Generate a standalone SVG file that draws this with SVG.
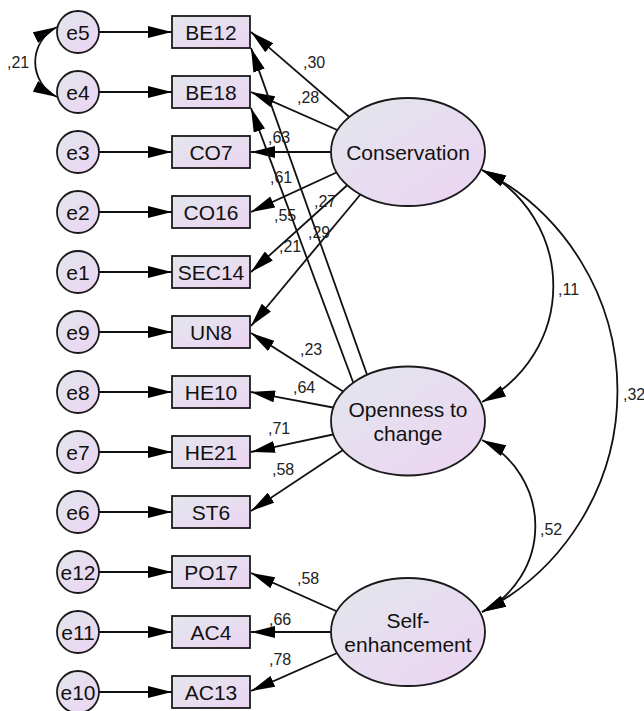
<svg xmlns="http://www.w3.org/2000/svg" width="644" height="711" viewBox="0 0 644 711">
  <style>
    .shape { stroke: #1a1a1a; stroke-width: 1.8; fill: url(#fillGrad); }
    .lbl { font-family: "Liberation Sans", Arial, sans-serif; font-size: 21px; fill: #111; text-anchor: middle; }
    .coef { font-family: "Liberation Sans", Arial, sans-serif; font-size: 16px; fill: #222; }
    .path { fill: none; stroke: #111; stroke-width: 1.8; marker-end: url(#ah); }
    .cov { fill: none; stroke: #111; stroke-width: 1.8; marker-start: url(#ah); marker-end: url(#ah); }
  </style>
  <defs>
    <linearGradient id="fillGrad" x1="0" y1="0" x2="1" y2="1">
      <stop offset="0" stop-color="#e2e6ec"/>
      <stop offset="1" stop-color="#ecd4f3"/>
    </linearGradient>
    <marker id="ah" viewBox="0 0 24 12" refX="24" refY="6" markerWidth="24" markerHeight="12" markerUnits="userSpaceOnUse" orient="auto-start-reverse">
      <path d="M0,0 L24,6 L0,12 z" fill="#000"/>
    </marker>
  </defs>

  <rect width="644" height="711" fill="#fff"/>

  <!-- connectors -->
  <g id="connectors">
    <!-- error terms to indicators -->
    <line class="path" x1="99" y1="32" x2="172" y2="32"/>
    <line class="path" x1="99" y1="92" x2="172" y2="92"/>
    <line class="path" x1="99" y1="152" x2="172" y2="152"/>
    <line class="path" x1="99" y1="212" x2="172" y2="212"/>
    <line class="path" x1="99" y1="272" x2="172" y2="272"/>
    <line class="path" x1="99" y1="332" x2="172" y2="332"/>
    <line class="path" x1="99" y1="392" x2="172" y2="392"/>
    <line class="path" x1="99" y1="452" x2="172" y2="452"/>
    <line class="path" x1="99" y1="512" x2="172" y2="512"/>
    <line class="path" x1="99" y1="572" x2="172" y2="572"/>
    <line class="path" x1="99" y1="632" x2="172" y2="632"/>
    <line class="path" x1="99" y1="692" x2="172" y2="692"/>

    <!-- Conservation loadings -->
    <line class="path" x1="354" y1="121" x2="251" y2="32"/>
    <line class="path" x1="344" y1="133" x2="251" y2="92"/>
    <line class="path" x1="340" y1="152" x2="251" y2="152"/>
    <line class="path" x1="344" y1="169" x2="251" y2="212"/>
    <line class="path" x1="353" y1="180" x2="251" y2="272"/>
    <line class="path" x1="365" y1="189" x2="251" y2="326"/>

    <!-- Openness to change loadings -->
    <line class="path" x1="370" y1="383" x2="251" y2="48"/>
    <line class="path" x1="356" y1="390" x2="251" y2="108"/>
    <line class="path" x1="347" y1="394" x2="251" y2="333"/>
    <line class="path" x1="341" y1="409" x2="251" y2="392"/>
    <line class="path" x1="340" y1="433" x2="251" y2="452"/>
    <line class="path" x1="349" y1="446" x2="251" y2="511"/>

    <!-- Self-enhancement loadings -->
    <line class="path" x1="345" y1="615" x2="251" y2="573"/>
    <line class="path" x1="340" y1="632" x2="251" y2="632"/>
    <line class="path" x1="344" y1="650" x2="251" y2="691"/>

    <!-- covariances -->
    <path class="cov" d="M57,27 A39,39 0 0 0 57,97"/>
    <path class="cov" d="M482,170 A130,130 0 0 1 482,402"/>
    <path class="cov" d="M482,170 A248,248 0 0 1 482,612"/>
    <path class="cov" d="M482,440 A96,96 0 0 1 482,612"/>
  </g>

  <!-- error terms -->
  <g id="e5"><circle class="shape" cx="78" cy="32" r="21"/><text class="lbl" x="78" y="39.5">e5</text></g>
  <g id="e4"><circle class="shape" cx="78" cy="92" r="21"/><text class="lbl" x="78" y="99.5">e4</text></g>
  <g id="e3"><circle class="shape" cx="78" cy="152" r="21"/><text class="lbl" x="78" y="159.5">e3</text></g>
  <g id="e2"><circle class="shape" cx="78" cy="212" r="21"/><text class="lbl" x="78" y="219.5">e2</text></g>
  <g id="e1"><circle class="shape" cx="78" cy="272" r="21"/><text class="lbl" x="78" y="279.5">e1</text></g>
  <g id="e9"><circle class="shape" cx="78" cy="332" r="21"/><text class="lbl" x="78" y="339.5">e9</text></g>
  <g id="e8"><circle class="shape" cx="78" cy="392" r="21"/><text class="lbl" x="78" y="399.5">e8</text></g>
  <g id="e7"><circle class="shape" cx="78" cy="452" r="21"/><text class="lbl" x="78" y="459.5">e7</text></g>
  <g id="e6"><circle class="shape" cx="78" cy="512" r="21"/><text class="lbl" x="78" y="519.5">e6</text></g>
  <g id="e12"><circle class="shape" cx="78" cy="572" r="21"/><text class="lbl" x="78" y="579.5">e12</text></g>
  <g id="e11"><circle class="shape" cx="78" cy="632" r="21"/><text class="lbl" x="78" y="639.5">e11</text></g>
  <g id="e10"><circle class="shape" cx="78" cy="692" r="21"/><text class="lbl" x="78" y="699.5">e10</text></g>

  <!-- observed indicators -->
  <g id="BE12"><rect class="shape" x="172" y="16" width="78" height="32"/><text class="lbl" x="211" y="39.5">BE12</text></g>
  <g id="BE18"><rect class="shape" x="172" y="76" width="78" height="32"/><text class="lbl" x="211" y="99.5">BE18</text></g>
  <g id="CO7"><rect class="shape" x="172" y="136" width="78" height="32"/><text class="lbl" x="211" y="159.5">CO7</text></g>
  <g id="CO16"><rect class="shape" x="172" y="196" width="78" height="32"/><text class="lbl" x="211" y="219.5">CO16</text></g>
  <g id="SEC14"><rect class="shape" x="172" y="256" width="78" height="32"/><text class="lbl" x="211" y="279.5">SEC14</text></g>
  <g id="UN8"><rect class="shape" x="172" y="316" width="78" height="32"/><text class="lbl" x="211" y="339.5">UN8</text></g>
  <g id="HE10"><rect class="shape" x="172" y="376" width="78" height="32"/><text class="lbl" x="211" y="399.5">HE10</text></g>
  <g id="HE21"><rect class="shape" x="172" y="436" width="78" height="32"/><text class="lbl" x="211" y="459.5">HE21</text></g>
  <g id="ST6"><rect class="shape" x="172" y="496" width="78" height="32"/><text class="lbl" x="211" y="519.5">ST6</text></g>
  <g id="PO17"><rect class="shape" x="172" y="556" width="78" height="32"/><text class="lbl" x="211" y="579.5">PO17</text></g>
  <g id="AC4"><rect class="shape" x="172" y="616" width="78" height="32"/><text class="lbl" x="211" y="639.5">AC4</text></g>
  <g id="AC13"><rect class="shape" x="172" y="676" width="78" height="32"/><text class="lbl" x="211" y="699.5">AC13</text></g>

  <!-- latent factors -->
  <g id="Conservation"><ellipse class="shape" cx="408" cy="152" rx="77" ry="54"/><text class="lbl" x="408" y="159.5">Conservation</text></g>
  <g id="Openness"><ellipse class="shape" cx="408" cy="421" rx="77" ry="54.5"/><text class="lbl" x="408" y="417">Openness to</text><text class="lbl" x="408" y="441">change</text></g>
  <g id="SelfEnhancement"><ellipse class="shape" cx="408" cy="632" rx="77" ry="54"/><text class="lbl" x="408" y="628">Self-</text><text class="lbl" x="408" y="652">enhancement</text></g>

  <!-- estimates -->
  <g id="estimates">
    <text class="coef" x="7" y="68">,21</text>
    <text class="coef" x="303" y="68">,30</text>
    <text class="coef" x="297" y="103">,28</text>
    <text class="coef" x="268" y="143">,63</text>
    <text class="coef" x="270" y="183">,61</text>
    <text class="coef" x="274" y="221">,55</text>
    <text class="coef" x="314" y="207">,27</text>
    <text class="coef" x="308" y="238">,29</text>
    <text class="coef" x="279" y="252">,21</text>
    <text class="coef" x="300" y="355">,23</text>
    <text class="coef" x="293" y="393">,64</text>
    <text class="coef" x="268" y="434">,71</text>
    <text class="coef" x="272" y="475">,58</text>
    <text class="coef" x="297" y="584">,58</text>
    <text class="coef" x="269" y="625">,66</text>
    <text class="coef" x="269" y="665">,78</text>
    <text class="coef" x="558" y="295">,11</text>
    <text class="coef" x="623" y="400">,32</text>
    <text class="coef" x="540" y="535">,52</text>
  </g>
</svg>
